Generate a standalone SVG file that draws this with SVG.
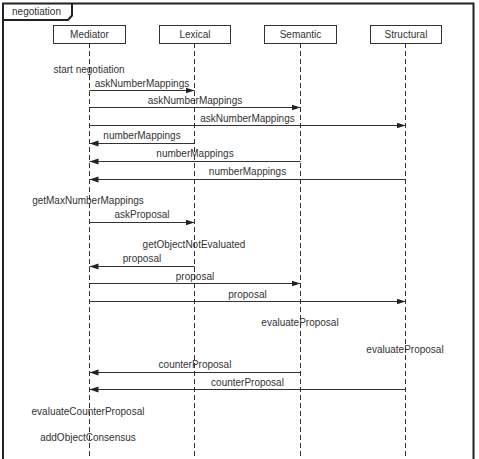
<svg xmlns="http://www.w3.org/2000/svg" width="479" height="459" viewBox="0 0 479 459">
<defs>
<marker id="ah" markerWidth="10" markerHeight="8" refX="9" refY="4" orient="auto" markerUnits="userSpaceOnUse">
<path d="M0,1 L9,4 L0,7 Z" fill="#222"/>
</marker>
<style>
text{font-family:"Liberation Sans",Arial,sans-serif;font-size:10px;fill:#333;text-anchor:middle}
.box{fill:#fff;stroke:#333;stroke-width:1}
.life{stroke:#333;stroke-width:1;stroke-dasharray:5,3;fill:none}
.msg{stroke:#333;stroke-width:1;fill:none;marker-end:url(#ah)}
.frame{fill:none;stroke:#222;stroke-width:2}
</style>
</defs>
<rect width="479" height="459" fill="#fff"/>
<g id="frame">
<path class="frame" d="M3,470 L3,3.5 L473.5,3.5 L473.5,470"/>
<path class="frame" d="M3,20 L68,20 L72,15.5 L72,3.5"/>
<text x="36.5" y="15">negotiation</text>
</g>
<g id="Mediator">
<line class="life" x1="89.5" y1="43" x2="89.5" y2="459"/>
<rect class="box" x="53.5" y="25.5" width="72" height="18"/>
<text x="89.5" y="38">Mediator</text>
</g>
<g id="Lexical">
<line class="life" x1="194.5" y1="43" x2="194.5" y2="459"/>
<rect class="box" x="159.5" y="25.5" width="71" height="18"/>
<text x="195" y="38">Lexical</text>
</g>
<g id="Semantic">
<line class="life" x1="300.5" y1="43" x2="300.5" y2="459"/>
<rect class="box" x="264.5" y="25.5" width="72" height="18"/>
<text x="300.5" y="38">Semantic</text>
</g>
<g id="Structural">
<line class="life" x1="405.5" y1="43" x2="405.5" y2="459"/>
<rect class="box" x="370.5" y="25.5" width="71" height="18"/>
<text x="406" y="38">Structural</text>
</g>
<g id="connectors">
<line class="msg" x1="89.5" y1="90.5" x2="194.5" y2="90.5"/>
<line class="msg" x1="89.5" y1="107.5" x2="300.5" y2="107.5"/>
<line class="msg" x1="89.5" y1="125.5" x2="405.5" y2="125.5"/>
<line class="msg" x1="194.5" y1="143.5" x2="89.5" y2="143.5"/>
<line class="msg" x1="300.5" y1="161.5" x2="89.5" y2="161.5"/>
<line class="msg" x1="405.5" y1="179.5" x2="89.5" y2="179.5"/>
<line class="msg" x1="89.5" y1="222.5" x2="194.5" y2="222.5"/>
<line class="msg" x1="194.5" y1="266.5" x2="89.5" y2="266.5"/>
<line class="msg" x1="89.5" y1="283.5" x2="300.5" y2="283.5"/>
<line class="msg" x1="89.5" y1="301.5" x2="405.5" y2="301.5"/>
<line class="msg" x1="300.5" y1="372.5" x2="89.5" y2="372.5"/>
<line class="msg" x1="405.5" y1="389.5" x2="89.5" y2="389.5"/>
</g>
<g id="labels">
<text x="89" y="72.5">start negotiation</text>
<text x="142" y="86.5">askNumberMappings</text>
<text x="195" y="104">askNumberMappings</text>
<text x="247.5" y="121.5">askNumberMappings</text>
<text x="142" y="139">numberMappings</text>
<text x="195" y="157">numberMappings</text>
<text x="247.5" y="175">numberMappings</text>
<text x="88" y="203.5">getMaxNumberMappings</text>
<text x="142" y="218">askProposal</text>
<text x="194" y="248">getObjectNotEvaluated</text>
<text x="142" y="262">proposal</text>
<text x="195" y="279.5">proposal</text>
<text x="247.5" y="297.5">proposal</text>
<text x="300" y="326">evaluateProposal</text>
<text x="405" y="352.5">evaluateProposal</text>
<text x="195" y="367.5">counterProposal</text>
<text x="247.5" y="385.5">counterProposal</text>
<text x="88" y="414.5">evaluateCounterProposal</text>
<text x="88" y="440.5">addObjectConsensus</text>
</g>
</svg>
